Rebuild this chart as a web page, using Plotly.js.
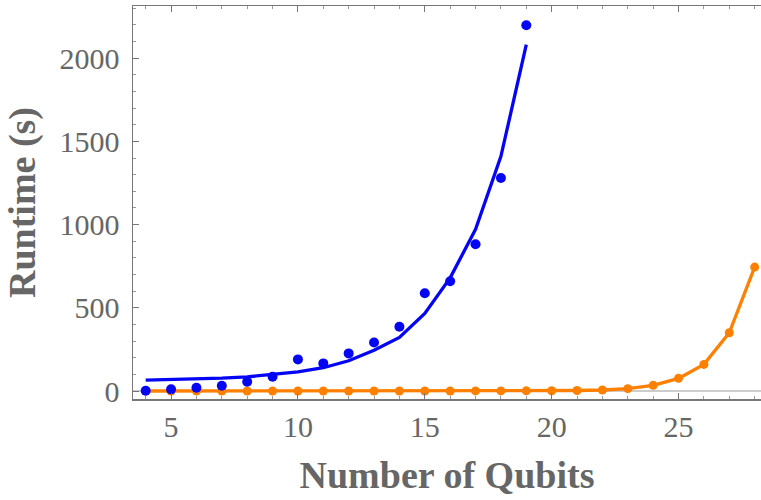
<!DOCTYPE html>
<html>
<head>
<meta charset="utf-8">
<script src="https://cdn.plot.ly/plotly-3.0.1.min.js"></script>
<style>html,body{margin:0;padding:0;background:#fff;}#chart{width:761px;height:500px;}</style>
</head>
<body>
<div id="chart"></div>
<script>
// Number of qubits
const qubitsBlue = [4,5,6,7,8,9,10,11,12,13,14,15,16,17,18,19];
// Measured runtime (blue points)
const runtimeBlue = [2,10,20,32,56,86,190,166,226,292,386,588,660,882,1280,2198];
// Fitted curve (blue line)
const fitBlue = [66,69,72,77,85,98,115,140,182,245,322,466,680,972,1410,2082];
// Second method (orange)
const qubitsOrange = [4,5,6,7,8,9,10,11,12,13,14,15,16,17,18,19,20,21,22,23,24,25,26,27,28];
const runtimeOrange = [0,0,0,0,0,0,0,0,0,0,0,0,0,0.5,0.5,1,1.5,3,6,14,34,76,160,350,745];
const xTicks = [5,10,15,20,25];
const yTicks = [0,500,1000,1500,2000];

const blue = '#0505f5';
const orange = '#ff8000';
const grey = '#666666';

const traces = [
  {x: qubitsOrange, y: runtimeOrange, type: 'scatter', mode: 'lines+markers',
   line: {color: orange, width: 3.3}, marker: {color: orange, size: 9}},
  {x: qubitsBlue, y: fitBlue, type: 'scatter', mode: 'lines',
   line: {color: blue, width: 3.3}, hoverinfo: 'skip'},
  {x: qubitsBlue, y: runtimeBlue, type: 'scatter', mode: 'markers',
   marker: {color: blue, size: 10}}
];

const layout = {
  width: 761, height: 500,
  margin: {l: 133, r: 0, t: 6, b: 101},
  paper_bgcolor: '#fff', plot_bgcolor: '#fff',
  showlegend: false,
  font: {family: 'Liberation Serif, Times New Roman, serif', color: grey, size: 30},
  xaxis: {
    range: [3.5, 28.25],
    tickvals: xTicks, ticktext: xTicks.map(String),
    ticks: 'inside', ticklen: 6, tickwidth: 1, tickcolor: '#777',
    minor: {dtick: 1, tick0: 0, ticks: 'inside', ticklen: 3, tickcolor: '#999'},
    showline: true, linecolor: '#777', linewidth: 1.5, mirror: 'ticks',
    showgrid: false, zeroline: false,
    ticklabelstandoff: 0,
    tickfont: {size: 30, color: grey},
    title: {text: '<b>Number of Qubits</b>', font: {size: 38, color: grey}, standoff: 20}
  },
  yaxis: {
    range: [-48, 2314],
    tickvals: yTicks, ticktext: yTicks.map(String),
    ticks: 'inside', ticklen: 6, tickwidth: 1, tickcolor: '#777',
    minor: {dtick: 100, tick0: 0, ticks: 'inside', ticklen: 3, tickcolor: '#999'},
    showline: true, linecolor: '#777', linewidth: 1.5, mirror: false,
    showgrid: false,
    zeroline: true, zerolinecolor: '#cccccc', zerolinewidth: 2.5,
    ticklabelstandoff: 6,
    tickfont: {size: 30, color: grey},
    title: {text: '<b>Runtime (s)</b>', font: {size: 38, color: grey}, standoff: 12}
  }
};

Plotly.newPlot('chart', traces, layout, {displayModeBar: false, staticPlot: true});
</script>
</body>
</html>
